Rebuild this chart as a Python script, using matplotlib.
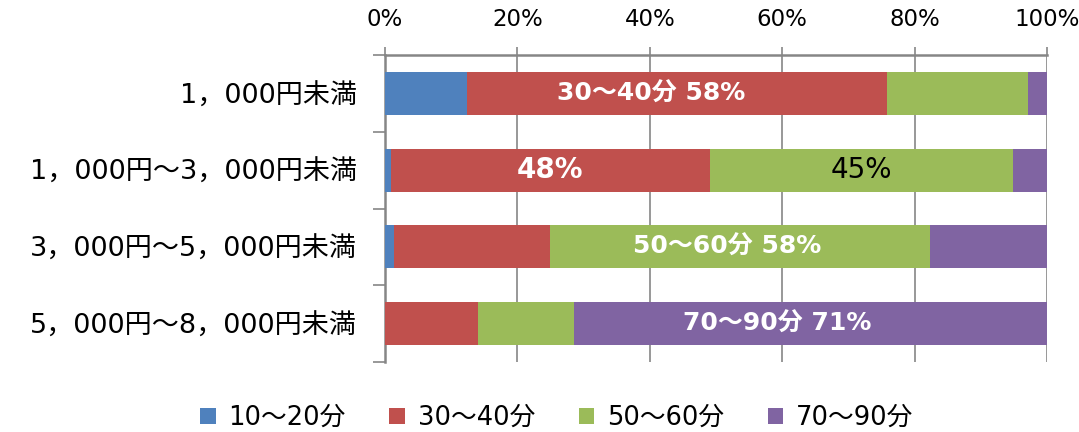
import matplotlib.pyplot as plt
import numpy as np

plt.rcParams['font.family'] = ['DejaVu Sans', 'Noto Sans CJK JP']

categories = ["1，000円未満", "1，000円～3，000円未満", "3，000円～5，000円未満", "5，000円～8，000円未満"]
series_names = ["10～20分", "30～40分", "50～60分", "70～90分"]
values = {
    "10～20分": [12.4, 0.9, 1.3, 0.0],
    "30～40分": [63.5, 48.2, 23.6, 14.1],
    "50～60分": [21.3, 45.7, 57.5, 14.4],
    "70～90分": [2.8, 5.2, 17.6, 71.5],
}
colours = ["#4F81BD", "#C0504D", "#9BBB59", "#8064A2"]

# data labels: (row, series, text)
labels = [(0, 1, "30～40分 58%"), (1, 1, "48%"), (1, 2, "45%"),
          (2, 2, "50～60分 58%"), (3, 3, "70～90分 71%")]
label_shift = [-4.0, 0.0, 0.0, -2.0, -5.0]

fig = plt.figure(figsize=(10.79, 4.32), dpi=100)
ax = fig.add_axes([385 / 1079, 1 - 362 / 432, 662 / 1079, 307 / 432])

y = np.arange(len(categories))
left = np.zeros(len(categories))
seg_left = {}
for name, col in zip(series_names, colours):
    vals = np.array(values[name])
    ax.barh(y, vals, left=left, height=0.56, color=col, label=name, zorder=3)
    seg_left[name] = left.copy()
    left = left + vals

for (row, s, text), shift in zip(labels, label_shift):
    name = series_names[s]
    cx = seg_left[name][row] + values[name][row] / 2 + shift
    if text == "45%":
        ax.text(cx, row, text, ha='center', va='center', fontsize=20, color='black', zorder=4)
    elif "分" in text:
        ax.text(cx, row, text, ha='center', va='center', fontsize=18, color='white',
                fontweight='bold', zorder=4)
    else:
        ax.text(cx, row, text, ha='center', va='center', fontsize=20, color='white',
                fontweight='bold', zorder=4)

ax.set_xlim(0, 100)
ax.set_ylim(len(categories) - 0.5, -0.5)
ax.xaxis.tick_top()
ax.set_xticks(np.arange(0, 101, 20))
ax.set_xticklabels(["{0}%".format(v) for v in range(0, 101, 20)], fontsize=16.5)
ax.tick_params(axis='x', length=6, color='#868686', width=1.2, pad=11)
ax.grid(axis='x', color='#868686', linewidth=1.2, zorder=0)

ax.set_yticks(y)
ax.set_yticklabels(categories, fontsize=19.5)
ax.tick_params(axis='y', which='major', length=0, pad=20)
ax.set_yticks(np.arange(-0.5, len(categories), 1.0), minor=True)
ax.tick_params(axis='y', which='minor', length=9, color='#868686', width=1.2)

for side in ['right', 'bottom']:
    ax.spines[side].set_visible(False)
for side in ['top', 'left']:
    ax.spines[side].set_color('#868686')
    ax.spines[side].set_linewidth(1.8)

fig.legend(loc='center', bbox_to_anchor=(0.516, 1 - 418 / 432), ncol=4, frameon=False,
           fontsize=18.5, handlelength=0.6, handleheight=0.6, columnspacing=1.7, handletextpad=0.5)

plt.savefig('out.png', dpi=100)
plt.close()
